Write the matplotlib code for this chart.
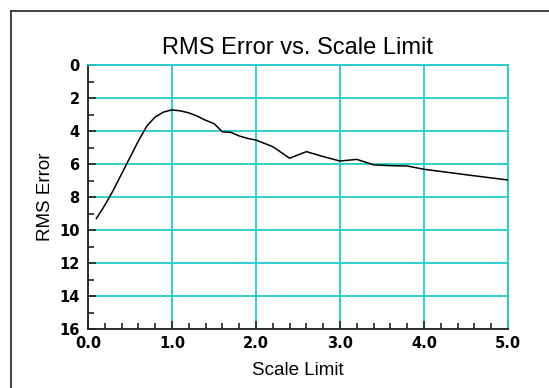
import numpy as np
import matplotlib.pyplot as plt
from matplotlib.lines import Line2D
from matplotlib.ticker import MultipleLocator

scale_limit = [0.1, 0.2, 0.3, 0.4, 0.5, 0.6, 0.7, 0.8, 0.9, 1.0,
               1.1, 1.2, 1.3, 1.4, 1.5, 1.6, 1.7, 1.8, 1.9, 2.0,
               2.2, 2.4, 2.6, 2.8, 3.0, 3.2, 3.4, 3.6, 3.8, 4.0,
               4.5, 5.0]
rms_error = [9.3, 8.5, 7.6, 6.6, 5.6, 4.6, 3.7, 3.15, 2.85, 2.72,
             2.78, 2.9, 3.1, 3.35, 3.55, 4.05, 4.08, 4.3, 4.45, 4.55,
             4.95, 5.65, 5.25, 5.55, 5.82, 5.72, 6.05, 6.1, 6.12, 6.32,
             6.65, 6.97]
x_ticks = [0, 1, 2, 3, 4, 5]

grid_color = '#22cccc'
dark = '#222222'

fig = plt.figure(figsize=(5.49, 3.88), dpi=100)
ax = fig.add_axes([88 / 549, 59 / 388, 420 / 549, 264 / 388])

ax.plot(scale_limit, rms_error, color='black', lw=1.1, zorder=3)

ax.set_xlim(0, 5)
ax.set_ylim(16, 0)
ax.set_xticks(x_ticks, [f'{v:.1f}' for v in x_ticks])
ax.xaxis.set_minor_locator(MultipleLocator(0.2))
ax.yaxis.set_major_locator(MultipleLocator(2))
ax.yaxis.set_minor_locator(MultipleLocator(1))

ax.grid(True, which='major', color=grid_color, lw=1.3, zorder=1)
ax.tick_params(which='both', direction='in', color=dark, width=1.2,
               labelsize=10.5, top=False, right=False)
ax.tick_params(which='major', length=6)
ax.tick_params(which='minor', length=4)
ax.tick_params(axis='x', which='major', pad=5)
ax.tick_params(axis='y', which='major', pad=6)
for lab in ax.get_xticklabels() + ax.get_yticklabels():
    lab.set_fontweight('bold')

ax.spines['left'].set_color(dark)
ax.spines['bottom'].set_color(dark)
ax.spines['top'].set_color(grid_color)
ax.spines['right'].set_color(grid_color)
for s in ax.spines.values():
    s.set_linewidth(1.3)

sans = ['Liberation Sans', 'DejaVu Sans']
ax.set_title('RMS Error vs. Scale Limit', fontsize=17, pad=8, family=sans)
ax.set_xlabel('Scale Limit', fontsize=13.5, labelpad=8, family=sans)
ax.set_ylabel('RMS Error', fontsize=13.5, labelpad=4, family=sans)

# outer frame
fig.add_artist(Line2D([11 / 549, 11 / 549], [0, 1 - 11 / 388],
                      color='#333333', lw=1.3, transform=fig.transFigure))
fig.add_artist(Line2D([11 / 549, 1], [1 - 11 / 388, 1 - 11 / 388],
                      color='#333333', lw=1.3, transform=fig.transFigure))

fig.savefig('out.png', dpi=100)
